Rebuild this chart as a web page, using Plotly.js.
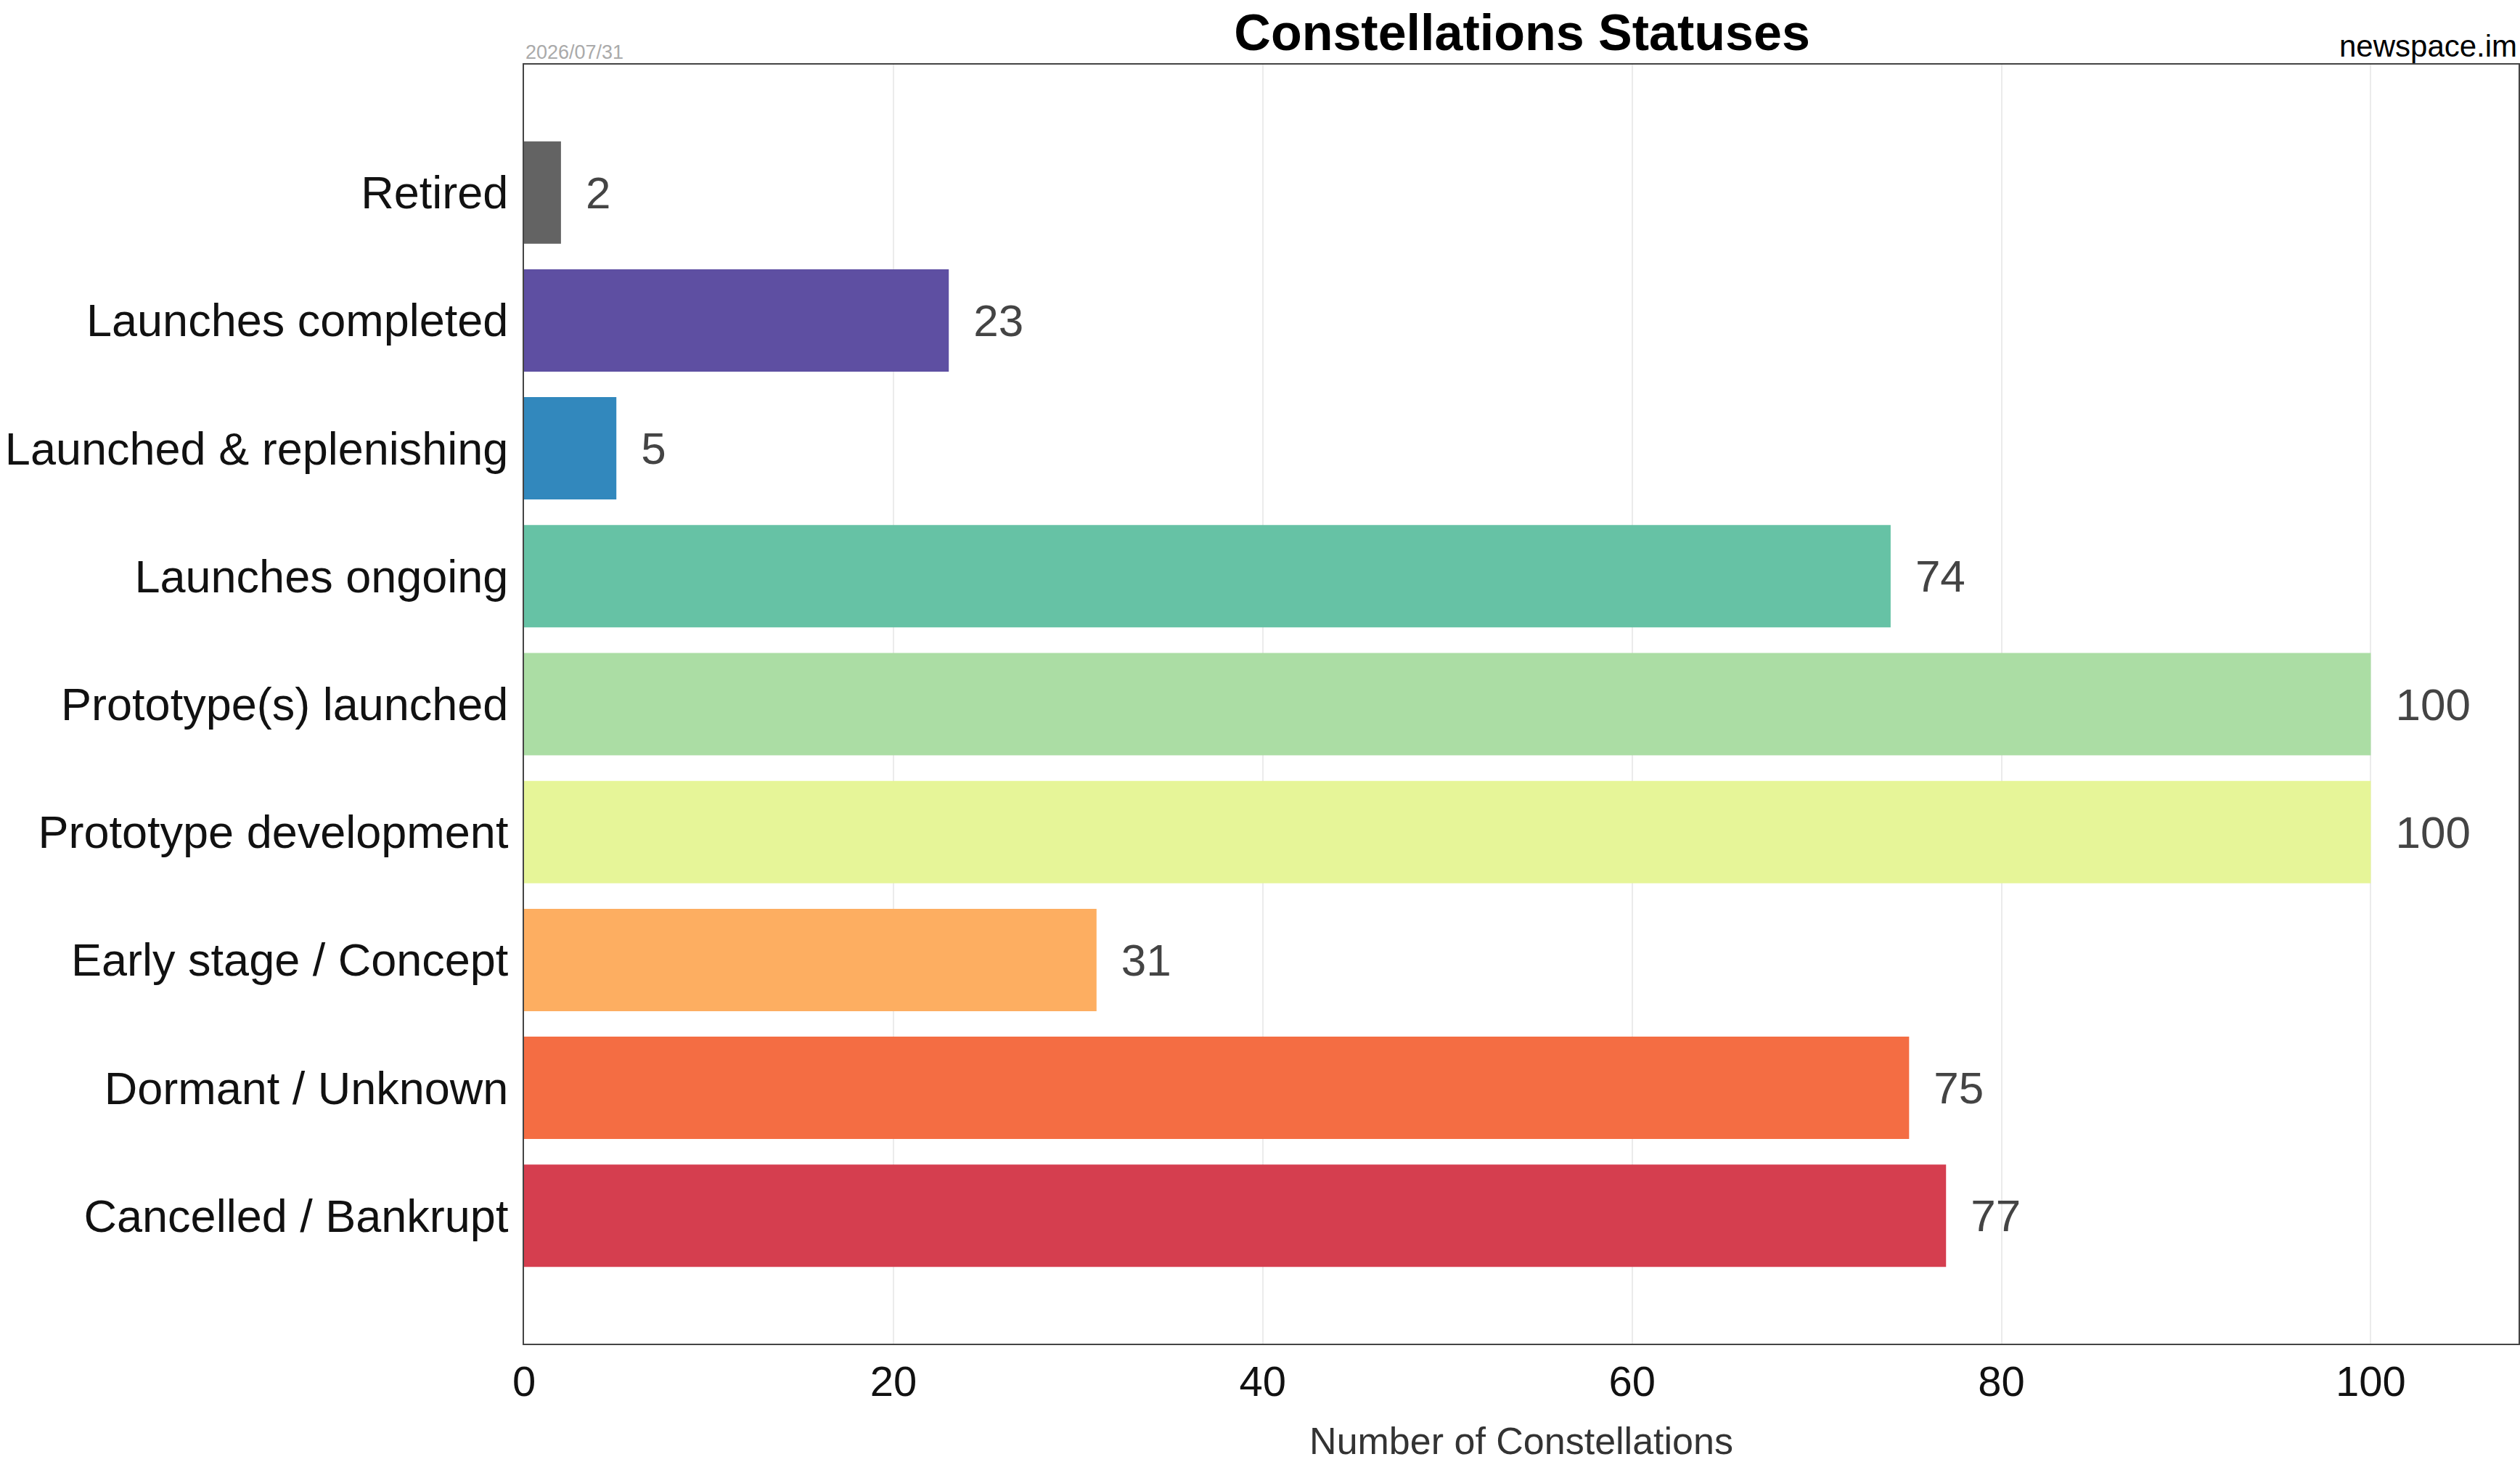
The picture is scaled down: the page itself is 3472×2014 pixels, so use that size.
<!DOCTYPE html>
<html><head><script src="https://cdn.plot.ly/plotly-3.0.1.min.js"></script>
<style>body{margin:0}</style></head><body>
<div id="c" style="width:3472px;height:2014px"></div>
<script>
const categories=["Retired","Launches completed","Launched & replenishing","Launches ongoing","Prototype(s) launched","Prototype development","Early stage / Concept","Dormant / Unknown","Cancelled / Bankrupt"];
const counts=[2,23,5,74,100,100,31,75,77];
const colors=["#636363","#5e4fa2","#3288bd","#66c2a5","#abdda4","#e6f598","#fdae61","#f46d43","#d53e4f"];
const xTicks=[0,20,40,60,80,100];
Plotly.newPlot("c",[{type:"bar",orientation:"h",y:categories,x:counts,marker:{color:colors},
 text:counts.map(v=>"\u2002"+v),textposition:"outside",textfont:{size:62,color:"#444"},cliponaxis:false,width:0.8}],
{width:3472,height:2014,margin:{l:722,r:2,t:89,b:163},paper_bgcolor:"#fff",plot_bgcolor:"#fff",
 font:{family:"Liberation Sans, Arial, sans-serif",color:"#111"},
 title:{text:"<b>Constellations Statuses</b>",font:{size:70,color:"#000"},x:0.604,xanchor:"center",y:0.99,yanchor:"top"},
 xaxis:{range:[0,108],tickvals:xTicks,tickfont:{size:58,color:"#111"},showgrid:true,gridcolor:"#ebebeb",gridwidth:2,
  showline:true,linecolor:"#444",linewidth:2,mirror:true,zeroline:false,ticks:"",
  title:{text:"Number of Constellations",font:{size:52,color:"#333"},standoff:62}},
 yaxis:{type:"category",range:[9,-1],tickfont:{size:63,color:"#111"},showgrid:false,showline:true,linecolor:"#444",linewidth:2,mirror:true,ticks:"",ticklabelstandoff:7},
 annotations:[{text:"2026/07/31",xref:"paper",yref:"paper",x:0,y:1,xanchor:"left",yanchor:"bottom",showarrow:false,font:{size:27,color:"#aaa"}},
  {text:"newspace.im",xref:"paper",yref:"paper",x:1,y:1,xanchor:"right",yanchor:"bottom",showarrow:false,font:{size:42,color:"#000"}}],
 showlegend:false},{displayModeBar:false});
</script></body></html>
